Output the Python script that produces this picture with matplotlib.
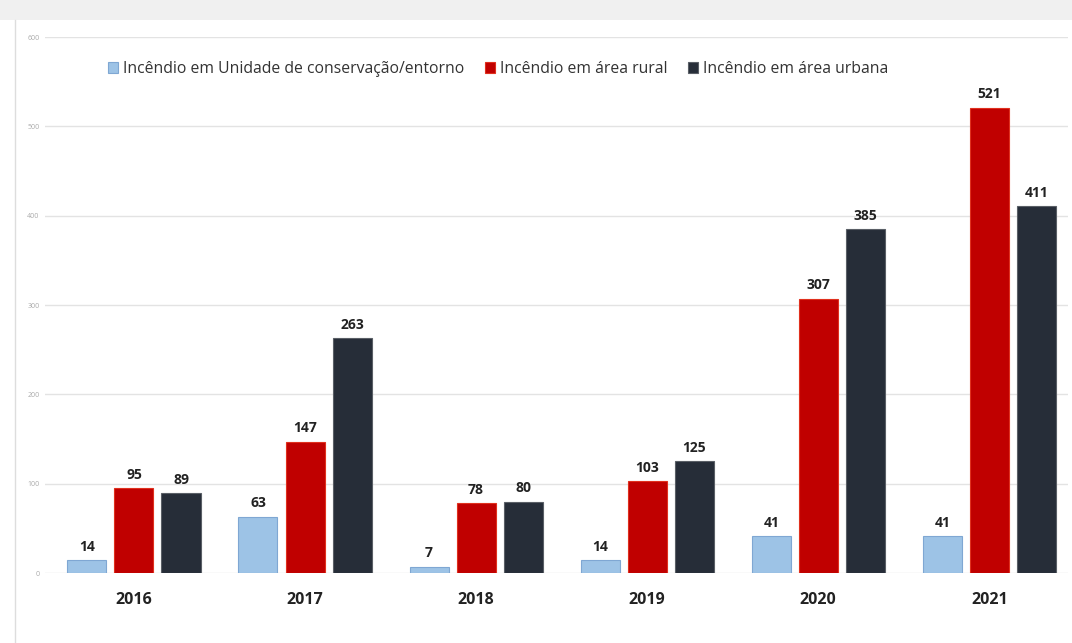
import numpy as np
import matplotlib.pyplot as plt
from matplotlib.patches import Rectangle

years = ["2016", "2017", "2018", "2019", "2020", "2021"]
unidade = [14, 63, 7, 14, 41, 41]
rural = [95, 147, 78, 103, 307, 521]
urbana = [89, 263, 80, 125, 385, 411]
labels = ["Incêndio em Unidade de conservação/entorno",
          "Incêndio em área rural",
          "Incêndio em área urbana"]
colors = ["#9dc3e6", "#c00000", "#262d38"]
edges = ["#7fa7d3", "#e0301e", "#5a5f66"]

plt.rcParams['font.family'] = ['Open Sans', 'DejaVu Sans']

fig = plt.figure(figsize=(10.72, 6.43), dpi=100)
fig.patch.set_facecolor("white")
# grey band at top of the screenshot
fig.patches.append(Rectangle((0, 1 - 20 / 643), 1, 20 / 643, transform=fig.transFigure,
                             facecolor="#f0f0f0", edgecolor="none", zorder=0))
fig.lines.append(plt.Line2D([15 / 1072, 15 / 1072], [0, 1 - 20 / 643], transform=fig.transFigure,
                            color="#dddddd", lw=1))

ax = fig.add_axes([45 / 1072, 1 - 573 / 643, 1023 / 1072, 536 / 643])
x = np.arange(len(years))
w = 0.228
off = 0.275
for i, (vals, lab) in enumerate(zip([unidade, rural, urbana], labels)):
    bars = ax.bar(x + (i - 1) * off, vals, w, color=colors[i], edgecolor=edges[i],
                  linewidth=0.8, label=lab, zorder=3)
    for b, v in zip(bars, vals):
        ax.text(b.get_x() + b.get_width() / 2, v + 7, str(v), ha="center", va="bottom",
                fontsize=10, fontweight="bold", color="#222222")

ax.set_xlim(-0.52, 5.46)
ax.set_ylim(0, 600)
ax.set_yticks(np.arange(0, 601, 100))
ax.tick_params(axis="y", labelsize=5, colors="#aaaaaa", length=0, pad=4)
ax.set_xticks(x)
ax.set_xticklabels(years, fontsize=11.5, fontweight="bold", color="#222222")
ax.tick_params(axis="x", length=0, pad=14)
ax.grid(axis="y", color="#e3e3e3", lw=1, zorder=0)
for s in ax.spines.values():
    s.set_visible(False)

ax.legend(loc="center left", bbox_to_anchor=(0.048, 0.94), ncol=3, frameon=False,
          fontsize=11.3, handlelength=0.65, handleheight=0.65, handletextpad=0.3,
          columnspacing=1.3, labelcolor="#333333")

fig.savefig("out.png", dpi=100)
